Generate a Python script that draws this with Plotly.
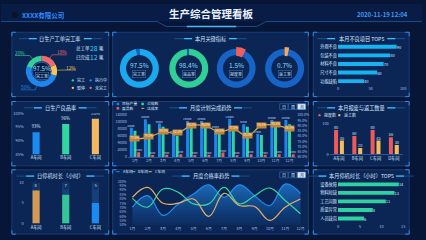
import math
import plotly.graph_objects as go

W, H = 426, 240
def X(p): return p / W
def Y(p): return 1 - p / H

# ---------------- data ----------------
company = "XXXX有限公司"
board_title = "生产综合管理看板"
timestamp = "2020-11-19 12:04"

order_status = ["未完工", "暂停", "执行中", "完工"]
order_share = [18, 12, 50, 20]
legend_status = ["完工", "执行中", "暂停", "未完工"]
completion_rate = 97.5
total_orders = 28
done_orders = 12

kpi_names = ["完工率", "良品率", "报废率", "返工率"]
kpi_values = [97.5, 98.4, 1.5, 0.7]
kpi_full = [100, 100, 20, 20]

defect_items = ["外观不良", "包装不良", "材料不良", "尺寸不良", "功能缺陷"]
defect_counts = [90, 80, 70, 60, 40]

workshops3 = ["A车间", "B车间", "C车间"]
yield_rate = [93, 96, 98]
yield_ticks = [85, 90, 95, 100]

months = [f"{m}月" for m in range(1, 13)]
plan_output = [84000, 108000, 96000, 66000, 103000, 103000, 80000, 110000, 94000, 67000, 106000, 106000]
good_output = [75000, 94000, 87000, 61000, 94000, 96000, 75000, 87000, 87000, 63000, 100000, 94000]
scrap_output = [14000, 6000, 7000, 8000, 6000, 7000, 13000, 5000, 8000, 7000, 8000, 8000]
plan_rate = [77.0, 79.0, 84.0, 82.5, 90.0, 90.0, 84.0, 87.0, 80.0, 90.0, 90.5, 86.5]

workshops4 = ["A车间", "B车间", "C车间", "D车间"]
scrap_qty = [80, 60, 80, 56]
rework_qty = [45, 20, 45, 30]

downtime_hours = [8, 7, 5]
downtime_cap = 10

pass_A = [70.7, 83.8, 61.3, 74.4, 85.7, 96.2, 82.0, 96.2, 83.8, 72.6, 97.0, 86.5]
pass_B = [80.8, 70.7, 91.4, 87.6, 74.4, 74.4, 93.2, 74.4, 83.8, 92.5, 78.2, 63.2]
pass_C = [82.0, 93.2, 75.2, 75.2, 80.0, 60.2, 86.5, 72.6, 71.4, 55.6, 70.7, 80.0]

stop_reasons = ["设备故障", "物料短缺", "工艺问题", "质量异常", "人员缺岗"]
stop_hours = [14, 13, 11, 8, 6]

# ---------------- style ----------------
FONT = "Noto Sans CJK SC"
BG = "#071637"
PANEL = "rgba(12,40,88,0.92)"
BORDER = "#1b4587"
CORNER = "#2f8be6"
TXT = "#d8e7ff"
TICK = "#a3bfe8"
C_RED, C_YEL, C_BLU, C_GRN = "#ef6b6b", "#f6c25c", "#1f86ee", "#35d09a"
status_color = {"未完工": C_RED, "暂停": C_YEL, "执行中": C_BLU, "完工": C_GRN}

shapes, anns = [], []

def rect(x0, y0, x1, y1, fill=None, line=None, lw=1, layer="below"):
    shapes.append(dict(type="rect", xref="paper", yref="paper",
                       x0=X(x0), x1=X(x1), y0=Y(y1), y1=Y(y0),
                       fillcolor=fill or "rgba(0,0,0,0)",
                       line=dict(color=line or "rgba(0,0,0,0)", width=lw if line else 0),
                       layer=layer))

def seg(x0, y0, x1, y1, color, w=1, layer="above"):
    shapes.append(dict(type="line", xref="paper", yref="paper",
                       x0=X(x0), y0=Y(y0), x1=X(x1), y1=Y(y1),
                       line=dict(color=color, width=w), layer=layer))

def path(pts, color, w=1, layer="above"):
    d = "M " + " L ".join(f"{X(a):.5f},{Y(b):.5f}" for a, b in pts)
    shapes.append(dict(type="path", xref="paper", yref="paper", path=d,
                       line=dict(color=color, width=w), layer=layer))

def ann(x, y, text, size=5, color=TXT, xanchor="center", yanchor="middle", **kw):
    anns.append(dict(x=X(x), y=Y(y), xref="paper", yref="paper", text=text,
                     showarrow=False, font=dict(size=size, color=color, family=FONT),
                     xanchor=xanchor, yanchor=yanchor, **kw))

# ---------------- header ----------------
rect(0, 0, 426, 18, fill="#091c46")
path([(0, 18), (158, 18), (167, 23), (259, 23), (268, 18), (426, 18)], "#1d5aa8", 0.8)
seg(188, 23, 238, 23, "#49b8ff", 1.5)
ann(213, 10, f"<b>{board_title}</b>", size=10.5, color="#e8f1ff")
ann(19, 11, f"<b>{company}</b>", size=6.5, color="#2f8cff", xanchor="left")
ann(414, 11, f"<b>{timestamp}</b>", size=6, color="#3f9cf0", xanchor="right")
shapes.append(dict(type="circle", xref="paper", yref="paper", x0=X(11), x1=X(17), y0=Y(14), y1=Y(8),
                   fillcolor="#0b1226", line=dict(width=0)))

# ---------------- panels ----------------
panels = [
    (11, 29, 109, 95, "日生产工单完工率"),
    (113, 29, 311, 95, "本月关键指标"),
    (316, 29, 413, 95, "本月不良项目 TOP5"),
    (11, 100, 109, 166, "日生产良品率"),
    (113, 100, 311, 166, "月度计划完成趋势"),
    (316, 100, 413, 166, "本月报废与返工数量"),
    (11, 170, 109, 236, "日停机时长（小时）"),
    (113, 170, 311, 236, "月度合格率趋势"),
    (316, 170, 413, 236, "本月停机时长（小时）TOP5"),
]
for x0, y0, x1, y1, title in panels:
    rect(x0, y0, x1, y1, fill=PANEL, line=BORDER, lw=0.8)
    L = 4
    path([(x0, y0 + L), (x0, y0), (x0 + L, y0)], CORNER, 1)
    path([(x1 - L, y0), (x1, y0), (x1, y0 + L)], CORNER, 1)
    path([(x0, y1 - L), (x0, y1), (x0 + L, y1)], CORNER, 1)
    path([(x1 - L, y1), (x1, y1), (x1, y1 - L)], CORNER, 1)
    cx, ty = (x0 + x1) / 2, y0 + 6.5
    fs = 5.2
    tw = sum(fs if ord(ch) > 255 else fs * 0.6 for ch in title)
    a, b = cx - tw / 2 - 3, cx + tw / 2 + 3
    seg(a - 18, ty, a, ty, "#1a5c9e", 0.8)
    seg(a - 8, ty, a, ty, "#3cc0ff", 1.3)
    seg(b, ty, b + 18, ty, "#1a5c9e", 0.8)
    seg(b, ty, b + 8, ty, "#3cc0ff", 1.3)
    ann(cx, ty, title, size=fs, color=TXT)

fig = go.Figure()

# ---------------- panel 1: order donut ----------------
dcx, dcy, dR = 41, 69, 16
fig.add_trace(go.Pie(values=order_share, labels=order_status, sort=False, direction="clockwise",
                     rotation=0, hole=0.64,
                     marker=dict(colors=[status_color[s] for s in order_status], line=dict(width=0)),
                     textinfo="none", hoverinfo="skip", showlegend=False,
                     domain=dict(x=[X(dcx - dR), X(dcx + dR)], y=[Y(dcy + dR), Y(dcy - dR)])))
shapes.append(dict(type="circle", xref="paper", yref="paper",
                   x0=X(dcx - 9.3), x1=X(dcx + 9.3), y0=Y(dcy + 9.3), y1=Y(dcy - 9.3),
                   fillcolor="rgba(6,26,64,0.9)", line=dict(color="#2a6fc4", width=0.8)))
tot = sum(order_share)
cum = 0
for s, v in zip(order_status, order_share):
    mid = (cum + v / 2) / tot * 2 * math.pi
    cum += v
    sx, sy = math.sin(mid), -math.cos(mid)
    p0 = (dcx + dR * sx, dcy + dR * sy)
    p1 = (dcx + (dR + 4) * sx, dcy + (dR + 4) * sy)
    side = 1 if sx >= 0 else -1
    p2 = (p1[0] + side * 15, p1[1])
    path([p0, p1, p2], status_color[s], 0.6)
    ann(p2[0] - side * 5, p1[1] - 3, f"{v}%", size=4.8, color=status_color[s])
ann(dcx, dcy - 3, f"{completion_rate}%", size=6.2, color="#8fe4ff")
ann(dcx, dcy + 5, "完工率", size=4, color=TXT, bordercolor="#3b7ed6", borderwidth=0.5,
    borderpad=0.6, bgcolor="rgba(8,30,70,0.9)")
for yy, lab, num in [(45.5, "总工单", total_orders), (54.5, "已完成", done_orders)]:
    ann(74, yy, lab, size=4.5, xanchor="left")
    ann(94, yy, f"{num}", size=6.8, color="#2fd4ff", borderpad=0)
    ann(102, yy, "笔", size=4.5)
for i, s in enumerate(legend_status):
    lx = 72.7 + (i % 2) * 18
    ly = 78.3 + (i // 2) * 7.7
    shapes.append(dict(type="circle", xref="paper", yref="paper", x0=X(lx - 1.2), x1=X(lx + 1.2),
                       y0=Y(ly + 1.2), y1=Y(ly - 1.2), fillcolor=status_color[s], line=dict(width=0)))
    ann(lx + 2.5, ly, s, size=4, xanchor="left")

# ---------------- panel 2: KPI rings ----------------
kpi_cx = [140, 190, 238, 287]
kcy, kR = 66, 20
kpi_col = ["#1aa8ee", "#2fcf97", "#ef5f5f", "#f5a75a"]
kpi_rest = ["#1060c4", "#1060c4", "#1763c6", "#1763c6"]
for i, (n, v, full) in enumerate(zip(kpi_names, kpi_values, kpi_full)):
    cx = kpi_cx[i]
    fig.add_trace(go.Pie(values=[v, full - v], sort=False, direction="clockwise", rotation=0, hole=0.68,
                         marker=dict(colors=[kpi_col[i], kpi_rest[i]], line=dict(width=0)),
                         textinfo="none", hoverinfo="skip", showlegend=False,
                         domain=dict(x=[X(cx - kR), X(cx + kR)], y=[Y(kcy + kR), Y(kcy - kR)])))
    if full != 100:
        R2 = kR + 1.8
        fig.add_trace(go.Pie(values=[v, full - v], sort=False, direction="clockwise", rotation=0,
                             hole=(kR * 0.68 - 1.0) / R2,
                             marker=dict(colors=[kpi_col[i], "rgba(0,0,0,0)"], line=dict(width=0)),
                             textinfo="none", hoverinfo="skip", showlegend=False,
                             domain=dict(x=[X(cx - R2), X(cx + R2)], y=[Y(kcy + R2), Y(kcy - R2)])))
    ann(cx, kcy - 3, f"{v}%", size=6.5, color="#86def8")
    ann(cx, kcy + 6, n, size=4, color=TXT, bordercolor="#3b7ed6", borderwidth=0.5,
        borderpad=0.6, bgcolor="rgba(8,30,70,0.9)")

ax = dict(showgrid=False, zeroline=False, showline=False, ticks="", fixedrange=True,
          tickfont=dict(size=4, color=TICK, family=FONT))

# ---------------- panel 3: defects TOP5 ----------------
fig.add_trace(go.Bar(x=defect_counts, y=defect_items, orientation="h", xaxis="x", yaxis="y",
                     marker=dict(color="#17b2f2", line=dict(width=0)), width=0.45,
                     text=defect_counts, textposition="outside", constraintext="none", textangle=0,
                     textfont=dict(size=4, color=TXT), cliponaxis=False,
                     hoverinfo="skip", showlegend=False))

# ---------------- panel 4: yield rate ----------------
fig.add_trace(go.Bar(x=workshops3, y=yield_rate, xaxis="x2", yaxis="y2",
                     marker=dict(color=["#1a8cf0", "#33d6a0", "#f5b85e"], line=dict(width=0)),
                     width=0.24, text=[f"{v}%" for v in yield_rate], textposition="outside",
                     constraintext="none", textangle=0, textfont=dict(size=4.3, color=TXT),
                     hoverinfo="skip", showlegend=False))

# ---------------- panel 5: monthly plan ----------------
bar_specs = [("目标产量", plan_output, "#1a86f0", -0.36, True), ("合格数", good_output, "#2fd3a4", -0.1, False),
             ("废品数", scrap_output, "#f05a5a", 0.16, True)]
for name, vals, col, off, lab in bar_specs:
    fig.add_trace(go.Bar(x=months, y=vals, xaxis="x3", yaxis="y3", width=0.21, offset=off,
                         marker=dict(color=col, line=dict(width=0)),
                         text=[str(v) for v in vals] if lab else None,
                         textposition="outside", constraintext="none",
                         textangle=0, textfont=dict(size=2.5, color="#c9dcff"), cliponaxis=False,
                         hoverinfo="skip", showlegend=False))
fig.add_trace(go.Scatter(x=months, y=plan_rate, xaxis="x3", yaxis="y4", mode="lines+markers",
                         line=dict(color="#d9a94a", width=1.2, shape="spline"),
                         marker=dict(size=2.5, color="#f3cf7a"), hoverinfo="skip", showlegend=False))
for m, v in zip(months, plan_rate):
    anns.append(dict(x=m, y=v, xref="x3", yref="y4", text=f"{v:.1f}%", showarrow=False, yshift=0.5,
                     font=dict(size=3.0, color="#fff4dc", family=FONT), bgcolor="#c2853a",
                     borderpad=0.3))
for i, (name, _, col, _, _) in enumerate(bar_specs):
    lx = 117 + (i % 2) * 25
    ly = 102.5 + (i // 2) * 4.5
    rect(lx, ly - 1.3, lx + 2.6, ly + 1.3, fill=col, layer="above")
    ann(lx + 3.6, ly, name, size=3.8, xanchor="left")
seg(142, 107, 145, 107, "#d9a94a", 1)
ann(146, 107, "达成率", size=3.8, xanchor="left")

def buttons(y0):
    for j, t in enumerate(["日", "周", "月"]):
        bx = 282 + j * 9
        sel = j == 2
        rect(bx, y0, bx + 8.3, y0 + 6, fill="#dbe7f7" if sel else "rgba(10,35,80,0.9)",
             line="#3b7ed6", lw=0.5, layer="above")
        ann(bx + 4.15, y0 + 3, t, size=4, color="#0b2453" if sel else TXT)
buttons(102.3)

# ---------------- panel 6: scrap & rework ----------------
fig.add_trace(go.Bar(x=workshops4, y=scrap_qty, xaxis="x5", yaxis="y5", width=0.22, offset=-0.27,
                     marker=dict(color="#ee5a5a", line=dict(width=0)), text=scrap_qty,
                     textposition="outside", constraintext="none", textangle=0,
                     textfont=dict(size=3.8, color=TXT), cliponaxis=False,
                     hoverinfo="skip", showlegend=False))
fig.add_trace(go.Bar(x=workshops4, y=rework_qty, xaxis="x5", yaxis="y5", width=0.22, offset=0.05,
                     marker=dict(color="#f5bd5a", line=dict(width=0)), text=rework_qty,
                     textposition="outside", constraintext="none", textangle=0,
                     textfont=dict(size=3.8, color=TXT), cliponaxis=False,
                     hoverinfo="skip", showlegend=False))
for lx, name, col in [(322.3, "报废数", "#ee5a5a"), (342.3, "返工数", "#f5bd5a")]:
    shapes.append(dict(type="circle", xref="paper", yref="paper", x0=X(lx - 1.2), x1=X(lx + 1.2),
                       y0=Y(114 + 1.2), y1=Y(114 - 1.2), fillcolor=col, line=dict(width=0)))
    ann(lx + 2.5, 114, name, size=4, xanchor="left")

# ---------------- panel 7: downtime ----------------
fig.add_trace(go.Bar(x=workshops3, y=[downtime_cap] * len(workshops3), xaxis="x6", yaxis="y6",
                     width=0.24, offset=-0.12, marker=dict(color="#163f7c", line=dict(width=0)),
                     hoverinfo="skip", showlegend=False))
fig.add_trace(go.Bar(x=workshops3, y=downtime_hours, xaxis="x6", yaxis="y6", width=0.24, offset=-0.12,
                     marker=dict(color=["#d39a55", "#38c496", "#1a8bf0"], line=dict(width=0)),
                     hoverinfo="skip", showlegend=False))
for w_, v in zip(workshops3, downtime_hours):
    anns.append(dict(x=w_, y=downtime_cap, xref="x6", yref="y6", text=str(v), showarrow=False,
                     yshift=-3.5, font=dict(size=4, color=TXT, family=FONT), bgcolor="#10315f",
                     borderpad=0.4))

# ---------------- panel 8: pass-rate trend ----------------
fig.add_trace(go.Scatter(x=months, y=pass_A, xaxis="x7", yaxis="y7", mode="lines",
                         line=dict(color="#1f8cf0", width=1.2, shape="spline", smoothing=1.2),
                         fill="tozeroy",
                         fillgradient=dict(type="vertical", start=50, stop=100,
                                           colorscale=[[0, "rgba(25,120,230,0.05)"],
                                                       [1, "rgba(40,150,245,0.65)"]]),
                         hoverinfo="skip", showlegend=False))
fig.add_trace(go.Scatter(x=months, y=pass_B, xaxis="x7", yaxis="y7", mode="lines",
                         line=dict(color="#35d6a0", width=1.2, shape="spline", smoothing=1.2),
                         hoverinfo="skip", showlegend=False))
fig.add_trace(go.Scatter(x=months, y=pass_C, xaxis="x7", yaxis="y7", mode="lines",
                         line=dict(color="#e8b262", width=1.2, shape="spline", smoothing=1.2),
                         hoverinfo="skip", showlegend=False))
for lx, name, col in [(116.7, "A车间", "#1f8cf0"), (132.7, "B车间", "#35d6a0"), (149.3, "C车间", "#e8b262")]:
    seg(lx, 172, lx + 3.3, 172, col, 1)
    ann(lx + 4.3, 172, name, size=3.8, xanchor="left")
buttons(172.3)

# ---------------- panel 9: downtime TOP5 ----------------
fig.add_trace(go.Bar(x=stop_hours, y=stop_reasons, orientation="h", xaxis="x8", yaxis="y8",
                     marker=dict(color="#2fd1a0", line=dict(width=0)), width=0.45,
                     text=stop_hours, textposition="outside", constraintext="none", textangle=0,
                     textfont=dict(size=4, color=TXT), cliponaxis=False,
                     hoverinfo="skip", showlegend=False))

cat_font = dict(size=4.2, color=TXT, family=FONT)
fig.update_layout(
    width=W, height=H, margin=dict(l=0, r=0, t=0, b=0), autosize=False,
    paper_bgcolor=BG, plot_bgcolor="rgba(0,0,0,0)",
    font=dict(family=FONT, color=TXT),
    barmode="group", showlegend=False,
    shapes=shapes, annotations=anns,
    xaxis=dict(ax, domain=[X(341), X(407)], range=[0, 100], tickvals=[0, 50, 100], anchor="y"),
    yaxis=dict(ax, domain=[Y(83.5), Y(39.5)], type="category", range=[4.5, -0.5], anchor="x",
               tickfont=cat_font),
    xaxis2=dict(ax, domain=[X(24), X(106)], type="category", range=[-0.383, 2.35], anchor="y2",
                tickfont=cat_font),
    yaxis2=dict(ax, domain=[Y(154), Y(112)], range=[85, 100], tickvals=yield_ticks,
                ticktext=[f"{t}%" for t in yield_ticks], anchor="x2"),
    xaxis3=dict(ax, domain=[X(128.4), X(299)], type="category", range=[-0.5, 11.5], anchor="y3",
                showline=True, linecolor="#2a5596", linewidth=0.6,
                tickfont=dict(size=3.8, color=TICK, family=FONT)),
    yaxis3=dict(ax, domain=[Y(157), Y(114)], range=[0, 120000], dtick=20000, tickformat="d",
                anchor="x3", tickfont=dict(size=3.4, color=TICK, family=FONT)),
    yaxis4=dict(ax, domain=[Y(157), Y(114)], range=[60, 100], dtick=5, tickformat=".1f",
                ticksuffix="%", overlaying="y3", side="right", anchor="x3",
                tickfont=dict(size=3.4, color=TICK, family=FONT)),
    xaxis5=dict(ax, domain=[X(332.75), X(406.75)], type="category", range=[-0.5, 3.5], anchor="y5",
                showline=True, linecolor="#2a5596", linewidth=0.6, tickfont=cat_font),
    yaxis5=dict(ax, domain=[Y(154), Y(123)], range=[0, 100], tickvals=[0, 100], anchor="x5"),
    xaxis6=dict(ax, domain=[X(24), X(106)], type="category", range=[-0.383, 2.35], anchor="y6",
                tickfont=cat_font),
    yaxis6=dict(ax, domain=[Y(225), Y(183)], range=[0, 10], tickvals=[0, 5, 10], anchor="x6"),
    xaxis7=dict(ax, domain=[X(127.6), X(308.4)], type="category", range=[-0.35, 11.35], anchor="y7",
                tickfont=dict(size=3.8, color=TICK, family=FONT)),
    yaxis7=dict(ax, domain=[Y(227), Y(182)], range=[50, 100], dtick=5, ticksuffix="%", anchor="x7",
                tickfont=dict(size=3.2, color=TICK, family=FONT)),
    xaxis8=dict(ax, domain=[X(341), X(407)], range=[0, 15], tickvals=[0, 5, 10, 15], anchor="y8"),
    yaxis8=dict(ax, domain=[Y(224.4), Y(180.6)], type="category", range=[4.5, -0.5], anchor="x8",
                tickfont=cat_font),
)

fig.write_html("out.html")
